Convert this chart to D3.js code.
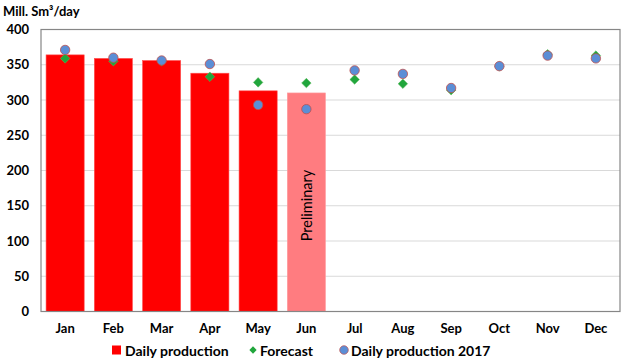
<!DOCTYPE html>
<html><head><meta charset="utf-8">
<script src="https://cdn.jsdelivr.net/npm/d3@7"></script>
<style>body{margin:0;background:#fff}svg{display:block}text{font-family:Lato,"Liberation Sans",sans-serif}</style>
</head><body><svg id="c" width="624" height="363"></svg>
<script>
const months = ["Jan","Feb","Mar","Apr","May","Jun","Jul","Aug","Sep","Oct","Nov","Dec"];
const dailyProduction = [364, 359, 356, 338, 313, 310, null, null, null, null, null, null];
const preliminary = [false, false, false, false, false, true, false, false, false, false, false, false];
const forecast = [359, 355, 355, 333, 325, 324, 329, 323, 314, 348, 365, 363];
const production2017 = [371, 360, 356, 351, 293, 287, 342, 337, 317, 348, 363, 359];
const yTicks = [0, 50, 100, 150, 200, 250, 300, 350, 400];
const unitLabel = "Mill. Sm³/day";
const prelimLabel = "Preliminary";
const legendLabels = ["Daily production", "Forecast", "Daily production 2017"];

const svg = d3.select("#c");
const L = 41, R = 620, T = 29.5, B = 311.5;
const x = d3.scaleBand().domain(months).range([L, R]).paddingInner(0.21).paddingOuter(0.105);
const y = d3.scaleLinear().domain([0, 400]).range([B, T]);

// gridlines
svg.append("g").selectAll("line").data(yTicks.filter(d => d > 0 && d < 400)).join("line")
  .attr("x1", L).attr("x2", R).attr("y1", d => y(d)).attr("y2", d => y(d))
  .attr("stroke", "#d9d9d9").attr("stroke-width", 1);

// bars
const barData = months.map((m, i) => ({m, v: dailyProduction[i], p: preliminary[i]})).filter(d => d.v != null);
svg.append("g").selectAll("rect").data(barData).join("rect")
  .attr("x", d => x(d.m)).attr("width", x.bandwidth())
  .attr("y", d => y(d.v)).attr("height", d => y(0) - y(d.v))
  .attr("fill", d => d.p ? "#ff7c80" : "#ff0000")
  .attr("stroke", d => d.p ? "#ff9a9d" : "#ff5050").attr("stroke-width", 0.6);

// preliminary label
barData.filter(d => d.p).forEach(d => {
  const cx = x(d.m) + x.bandwidth() / 2, cy = 205.5;
  svg.append("text").attr("transform", `translate(${cx},${cy}) rotate(-90)`)
    .attr("text-anchor", "middle").attr("dominant-baseline", "central")
    .attr("font-size", 14.5).attr("fill", "#000").text(prelimLabel);
});

// frame
svg.append("rect").attr("x", L).attr("y", T).attr("width", R - L).attr("height", B - T)
  .attr("fill", "none").attr("stroke", "#868686").attr("stroke-width", 1.2);

// axes
const yAxis = d3.axisLeft(y).tickValues(yTicks).tickSize(0).tickPadding(12);
const gy = svg.append("g").attr("transform", `translate(${L},0)`).call(yAxis);
gy.select(".domain").remove();
gy.selectAll("text").attr("font-size", 13).attr("font-weight", "bold").attr("fill", "#000")
  .attr("font-family", "Lato, 'Liberation Sans', sans-serif");

const xAxis = d3.axisBottom(x).tickSize(0).tickPadding(12);
const gx = svg.append("g").attr("transform", `translate(0,${B})`).call(xAxis);
gx.select(".domain").remove();
gx.selectAll("text").attr("font-size", 13).attr("font-weight", "bold").attr("fill", "#000")
  .attr("font-family", "Lato, 'Liberation Sans', sans-serif");

// forecast diamonds
const diamond = d3.symbol().type(d3.symbolDiamond2).size(58);
svg.append("g").selectAll("path").data(forecast).join("path")
  .attr("d", diamond)
  .attr("transform", (d, i) => `translate(${x(months[i]) + x.bandwidth() / 2},${y(d)})`)
  .attr("fill", "#21a63c").attr("stroke", "#5cb85c").attr("stroke-width", 0.5);

// 2017 circles
svg.append("g").selectAll("circle").data(production2017).join("circle")
  .attr("cx", (d, i) => x(months[i]) + x.bandwidth() / 2).attr("cy", d => y(d))
  .attr("r", 4.7).attr("fill", "#5b8ed6").attr("stroke", "#c0504d").attr("stroke-width", 0.8);

// unit label
svg.append("text").attr("x", 3).attr("y", 16).attr("font-size", 13).attr("font-weight", "bold")
  .attr("fill", "#000").text(unitLabel);

// legend
const lg = svg.append("g");
const ly = 350;
lg.append("rect").attr("x", 112).attr("y", ly - 4.5).attr("width", 9).attr("height", 9).attr("fill", "#ff0000");
lg.append("text").attr("x", 125).attr("y", ly).attr("dominant-baseline", "central").attr("font-size", 14)
  .attr("font-weight", "bold").text(legendLabels[0]);
lg.append("path").attr("d", d3.symbol().type(d3.symbolDiamond2).size(34))
  .attr("transform", `translate(253,${ly})`).attr("fill", "#21a63c");
lg.append("text").attr("x", 260).attr("y", ly).attr("dominant-baseline", "central").attr("font-size", 14)
  .attr("font-weight", "bold").text(legendLabels[1]);
lg.append("circle").attr("cx", 344).attr("cy", ly).attr("r", 4.3).attr("fill", "#5b8ed6")
  .attr("stroke", "#c0504d").attr("stroke-width", 0.7);
lg.append("text").attr("x", 351).attr("y", ly).attr("dominant-baseline", "central").attr("font-size", 14)
  .attr("font-weight", "bold").text(legendLabels[2]);
</script></body></html>
